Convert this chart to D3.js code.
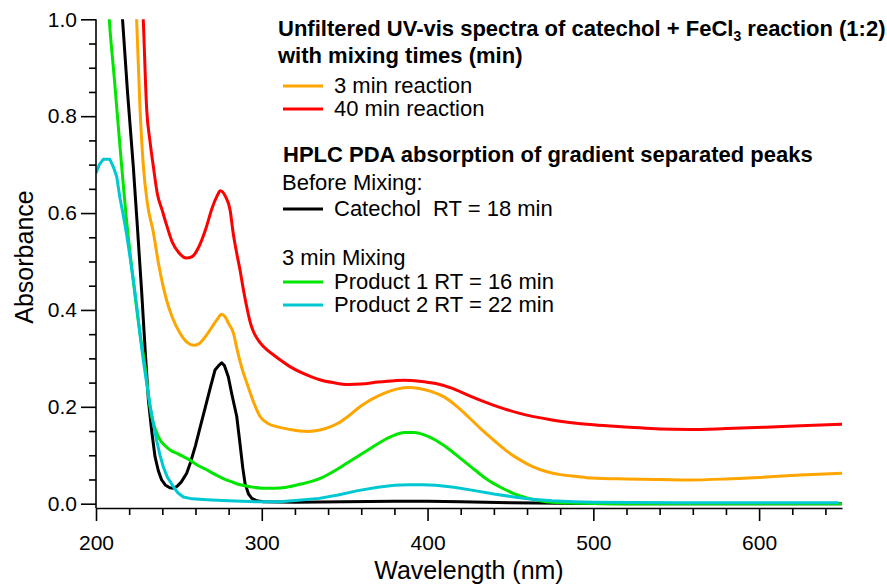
<!DOCTYPE html>
<html>
<head>
<meta charset="utf-8">
<script src="https://cdn.jsdelivr.net/npm/d3@7/dist/d3.min.js"></script>
<style>
  html, body { margin: 0; padding: 0; background: #fff; }
  svg { display: block; }
  text { font-family: "Liberation Sans", Arial, sans-serif; fill: #000; }
</style>
</head>
<body>
<svg id="chart" width="887" height="586"></svg>
<script>
// Wavelength (nm) and absorbance for each spectrum
const orangeWl  = [221, 224.5, 226.5, 228.5, 231, 234.6, 238, 242.6, 246, 250.7, 255, 258.7, 262, 266, 270, 273, 275.8, 278, 280, 282.9, 285, 288, 291, 295, 299, 304, 309, 316, 323, 328.5, 335, 340, 346, 352, 358, 364, 370, 376, 382, 388.5, 395, 402, 409.7, 418, 425, 432, 440, 448, 456, 463.7, 472, 480, 490, 498.7, 520, 540, 557.6, 580, 604, 625, 650];
const orangeAbs = [1.2, 1.0, 0.82, 0.70, 0.62, 0.56, 0.49, 0.42, 0.385, 0.352, 0.333, 0.327, 0.33, 0.345, 0.365, 0.38, 0.391, 0.385, 0.372, 0.352, 0.32, 0.28, 0.249, 0.21, 0.18, 0.165, 0.159, 0.154, 0.15, 0.149, 0.152, 0.157, 0.166, 0.18, 0.197, 0.211, 0.222, 0.231, 0.237, 0.240, 0.238, 0.232, 0.221, 0.200, 0.178, 0.155, 0.131, 0.108, 0.090, 0.076, 0.066, 0.060, 0.056, 0.053, 0.051, 0.050, 0.049, 0.051, 0.055, 0.059, 0.063];

const redWl  = [225, 228.5, 230.6, 232.5, 234.6, 237, 240, 242.6, 246, 250, 254.5, 258, 262, 266, 270, 273, 275, 278, 280.9, 282.7, 285, 286.9, 289, 291, 293, 295, 297, 300, 303, 306.8, 311, 317, 323, 330, 335, 343, 352, 360, 370, 380, 386, 395, 405, 415, 425, 440, 455, 475, 500, 522, 540, 557.6, 580, 604, 625, 650];
const redAbs = [1.25, 1.0, 0.813, 0.75, 0.696, 0.64, 0.605, 0.575, 0.54, 0.518, 0.507, 0.51, 0.53, 0.565, 0.61, 0.635, 0.646, 0.635, 0.606, 0.56, 0.515, 0.482, 0.44, 0.405, 0.375, 0.355, 0.342, 0.328, 0.318, 0.308, 0.297, 0.283, 0.272, 0.262, 0.256, 0.25, 0.246, 0.247, 0.251, 0.254, 0.255, 0.253, 0.248, 0.238, 0.223, 0.203, 0.187, 0.173, 0.163, 0.158, 0.154, 0.153, 0.155, 0.158, 0.161, 0.164];

const catecholWl  = [214, 216, 219, 222.5, 225, 227.6, 229.6, 231.6, 233.6, 235.6, 237.6, 239.6, 242, 244.5, 246.7, 249, 251.5, 254.7, 257, 260, 263, 266, 269, 271.8, 274, 275.8, 277.5, 279.8, 282, 284.9, 287, 288.5, 289.9, 292, 294, 297, 301, 320, 350, 380, 400, 420, 450, 480, 520, 650];
const catecholAbs = [1.1, 1.0, 0.85, 0.696, 0.57, 0.434, 0.32, 0.214, 0.15, 0.097, 0.068, 0.049, 0.038, 0.033, 0.032, 0.036, 0.045, 0.063, 0.085, 0.12, 0.16, 0.2, 0.24, 0.276, 0.285, 0.291, 0.285, 0.262, 0.225, 0.18, 0.12, 0.075, 0.042, 0.02, 0.011, 0.006, 0.004, 0.003, 0.004, 0.005, 0.005, 0.004, 0.002, 0.001, 0.0, 0.0];

const product1Wl  = [206, 208, 211, 215.5, 218, 221.5, 224.6, 227, 229.6, 231.6, 233.6, 236, 238.6, 241.5, 244.7, 250, 256.7, 261, 266.8, 272, 276.8, 282, 287, 293, 300, 307, 315, 323, 330, 337, 344, 351, 358, 365, 372, 379, 386, 392, 398, 405, 412, 420, 428.4, 436, 444, 452, 460, 468, 475, 490, 510, 650];
const product1Abs = [1.12, 1.0, 0.88, 0.696, 0.6, 0.489, 0.40, 0.34, 0.283, 0.225, 0.180, 0.152, 0.132, 0.12, 0.111, 0.102, 0.090, 0.080, 0.070, 0.060, 0.052, 0.045, 0.039, 0.035, 0.032, 0.032, 0.034, 0.040, 0.046, 0.055, 0.068, 0.083, 0.098, 0.113, 0.128, 0.140, 0.147, 0.147, 0.142, 0.131, 0.115, 0.093, 0.070, 0.050, 0.034, 0.021, 0.012, 0.006, 0.003, 0.001, 0.0, 0.0];

const product2Wl  = [200, 202, 204.4, 206.5, 208.4, 210.5, 212.5, 214.5, 216.5, 218.5, 220.5, 222.5, 224.5, 226.5, 228.5, 230.5, 232.5, 234.6, 236.6, 238.6, 240.6, 243, 246.7, 249.5, 252.7, 258, 266.8, 280, 297, 311, 322, 334.6, 346, 358, 370, 380, 388.5, 397, 405, 416, 428.4, 440, 452, 463, 475, 488, 500, 550, 600, 648];
const product2Abs = [0.682, 0.70, 0.711, 0.711, 0.711, 0.695, 0.675, 0.63, 0.595, 0.555, 0.51, 0.462, 0.41, 0.35, 0.297, 0.25, 0.205, 0.166, 0.13, 0.1, 0.076, 0.055, 0.035, 0.022, 0.014, 0.010, 0.008, 0.006, 0.004, 0.004, 0.007, 0.011, 0.018, 0.027, 0.034, 0.038, 0.039, 0.039, 0.038, 0.034, 0.027, 0.020, 0.014, 0.009, 0.006, 0.004, 0.003, 0.002, 0.002, 0.002];

// Axis ticks
const xMajorTicks = [200, 300, 400, 500, 600];
const xMinorTicks = [220, 240, 260, 280, 320, 340, 360, 380, 420, 440, 460, 480, 520, 540, 560, 580, 620, 640];
const yMajorTicks = [0.0, 0.2, 0.4, 0.6, 0.8, 1.0];
const yMinorTicks = [0.05, 0.1, 0.15, 0.25, 0.3, 0.35, 0.45, 0.5, 0.55, 0.65, 0.7, 0.75, 0.85, 0.9, 0.95];

// Legend labels
const legendTitleA = "Unfiltered UV-vis spectra of catechol + FeCl";
const legendTitleA2 = "with mixing times (min)";
const legendTitleB = "HPLC PDA absorption of gradient separated peaks";
const seriesNames = ["3 min reaction", "40 min reaction", "Catechol  RT = 18 min", "Product 1 RT = 16 min", "Product 2 RT = 22 min"];
const seriesColors = ["#ffa500", "#ff0000", "#000000", "#00e600", "#00c8d2"];

const series = [
  { wl: orangeWl, abs: orangeAbs, smooth: true },
  { wl: redWl, abs: redAbs, smooth: true },
  { wl: catecholWl, abs: catecholAbs, smooth: false },
  { wl: product1Wl, abs: product1Abs, smooth: true },
  { wl: product2Wl, abs: product2Abs, smooth: false }
].map((s, i) => ({ ...s, name: seriesNames[i], color: seriesColors[i] }));

const svg = d3.select("#chart");
const x = d3.scaleLinear().domain([200, 650]).range([96, 842]);
const y = d3.scaleLinear().domain([0, 1]).range([503.7, 19.3]);
const xAxisY = 508;

// Plot clip
svg.append("defs").append("clipPath").attr("id", "plotClip")
  .append("rect")
  .attr("x", x(200)).attr("y", y(1))
  .attr("width", x(650) - x(200)).attr("height", xAxisY - y(1));

// Spectra
const plot = svg.append("g").attr("clip-path", "url(#plotClip)");
series.forEach(s => {
  const pts = s.wl.map((w, i) => [w, s.abs[i]]);
  const line = d3.line()
    .x(d => x(d[0])).y(d => y(d[1]))
    .curve(s.smooth ? d3.curveMonotoneX : d3.curveLinear);
  plot.append("path")
    .datum(pts)
    .attr("d", line)
    .attr("fill", "none")
    .attr("stroke", s.color)
    .attr("stroke-width", 3)
    .attr("stroke-linejoin", "round");
});

// X axis
const xAxisG = svg.append("g").attr("transform", `translate(0,${xAxisY})`);
xAxisG.call(d3.axisBottom(x).tickValues(xMajorTicks).tickSize(13).tickSizeOuter(0).tickPadding(14).tickFormat(d3.format("d")));
svg.append("g").attr("transform", `translate(0,${xAxisY})`)
  .call(d3.axisBottom(x).tickValues(xMinorTicks).tickSize(7).tickFormat(""))
  .call(g => g.select(".domain").remove());

// Y axis
const yAxisG = svg.append("g").attr("transform", `translate(${x(200)},0)`);
yAxisG.call(d3.axisLeft(y).tickValues(yMajorTicks).tickSize(15).tickSizeOuter(0).tickPadding(4).tickFormat(d3.format(".1f")))
  .call(g => g.select(".domain").remove());
svg.append("g").attr("transform", `translate(${x(200)},0)`)
  .call(d3.axisLeft(y).tickValues(yMinorTicks).tickSize(7).tickFormat(""))
  .call(g => g.select(".domain").remove());
svg.append("line")
  .attr("x1", x(200)).attr("x2", x(200))
  .attr("y1", y(1)).attr("y2", xAxisY)
  .attr("stroke", "#000").attr("stroke-width", 1.6);

svg.selectAll(".tick line").attr("stroke", "#000").attr("stroke-width", 1.6);
svg.selectAll(".domain").attr("stroke", "#000").attr("stroke-width", 1.6);
svg.selectAll(".tick text")
  .style("font-family", '"Liberation Sans", Arial, sans-serif')
  .style("font-size", "21px");

// Axis titles
svg.append("text")
  .attr("x", (x(200) + x(650)) / 2).attr("y", 579)
  .attr("text-anchor", "middle")
  .style("font-size", "25px")
  .text("Wavelength (nm)");
svg.append("text")
  .attr("transform", "translate(33,257) rotate(-90)")
  .attr("text-anchor", "middle")
  .style("font-size", "25px")
  .text("Absorbance");

// Legend
const leg = svg.append("g");
const t1 = leg.append("text").attr("x", 278).attr("y", 36)
  .style("font-size", "22px").style("font-weight", "bold");
t1.append("tspan").text(legendTitleA);
t1.append("tspan").attr("dy", 5).style("font-size", "14px").text("3");
t1.append("tspan").attr("dy", -5).text(" reaction (1:2)");
leg.append("text").attr("x", 278).attr("y", 63)
  .style("font-size", "22px").style("font-weight", "bold")
  .text(legendTitleA2);
leg.append("text").attr("x", 283).attr("y", 162)
  .style("font-size", "22px").style("font-weight", "bold")
  .text(legendTitleB);
leg.append("text").attr("x", 282).attr("y", 190)
  .style("font-size", "22px").text("Before Mixing:");
leg.append("text").attr("x", 282).attr("y", 265)
  .style("font-size", "22px").text("3 min Mixing");

const rowY = [86, 109, 209, 282, 305];
series.forEach((s, i) => {
  leg.append("line")
    .attr("x1", 283).attr("x2", 323)
    .attr("y1", rowY[i]).attr("y2", rowY[i])
    .attr("stroke", s.color).attr("stroke-width", 3);
  leg.append("text")
    .attr("x", 334).attr("y", rowY[i] + 7)
    .style("font-size", "22px")
    .style("white-space", "pre")
    .text(s.name);
});
</script>
</body>
</html>
